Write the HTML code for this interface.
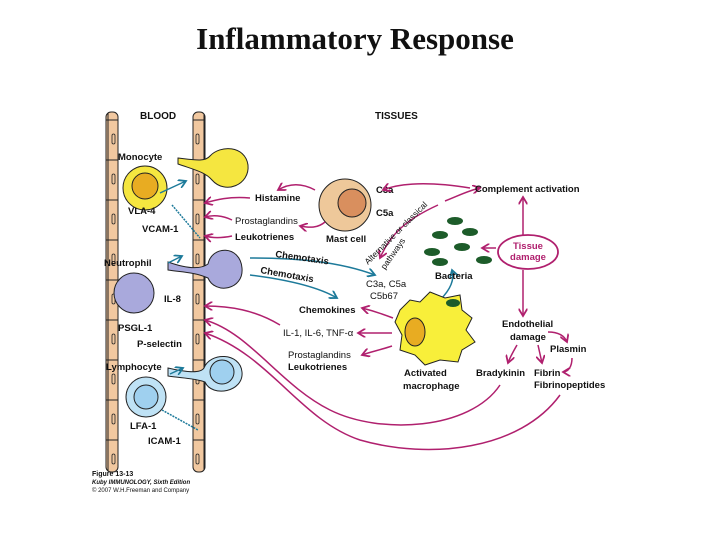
<!DOCTYPE html>
<html><head><meta charset="utf-8"><style>
body{margin:0;background:#fff;width:720px;height:540px;overflow:hidden}
svg text{font-family:"Liberation Sans",sans-serif;font-weight:bold;font-size:9.5px;fill:#111}
</style></head><body>
<svg width="720" height="540" viewBox="0 0 720 540">
<defs>
<marker id="mp" markerWidth="6" markerHeight="6" refX="5" refY="3" orient="auto"><path d="M0,0 L5,3 L0,6" fill="none" stroke="#b0206e" stroke-width="1.2"/></marker>
<marker id="mb" markerWidth="6" markerHeight="6" refX="5" refY="3" orient="auto"><path d="M0,0 L5,3 L0,6" fill="none" stroke="#1d7a9a" stroke-width="1.2"/></marker>
<pattern id="wall" width="12" height="40" patternUnits="userSpaceOnUse"><rect x="0" y="0" width="12" height="40" fill="#f1c8a0" stroke="#222" stroke-width="1"/><rect x="4" y="14" width="3" height="10" rx="1.5" fill="#f1c8a0" stroke="#222" stroke-width="0.8"/></pattern>
</defs>
<text x="355" y="49" text-anchor="middle" style="font-family:'Liberation Serif',serif;font-size:31px;font-weight:bold">Inflammatory Response</text>
<rect x="106" y="112" width="12" height="360" rx="5" fill="url(#wall)" stroke="#222"/>
<rect x="193" y="112" width="12" height="360" rx="5" fill="url(#wall)" stroke="#222"/>
<text x="140" y="119" style="font-size:10px">BLOOD</text>
<text x="375" y="119" style="font-size:10px">TISSUES</text>
<path d="M178,158 C195,160 205,162 210,156 C220,145 245,145 248,165 C250,185 225,195 212,180 C205,172 195,170 178,164 Z" fill="#f5e640" stroke="#222"/>
<circle cx="145" cy="188" r="22" fill="#f5e640" stroke="#222"/>
<circle cx="145" cy="186" r="13" fill="#e8ac22" stroke="#222"/>
<text x="118" y="160">Monocyte</text>
<text x="128" y="214">VLA-4</text>
<text x="142" y="232">VCAM-1</text>
<path d="M168,262 C185,268 200,270 208,264 C212,245 240,245 242,268 C244,290 215,295 208,278 C195,272 180,272 168,270 Z" fill="#a9a9dc" stroke="#222"/>
<circle cx="134" cy="293" r="20" fill="#a9a9dc" stroke="#222"/>
<text x="104" y="266">Neutrophil</text>
<text x="164" y="302">IL-8</text>
<text x="118" y="331">PSGL-1</text>
<text x="137" y="347">P-selectin</text>
<path d="M168,368 C185,372 200,374 204,368 C210,352 240,352 242,372 C244,392 212,398 205,382 C195,378 180,378 168,376 Z" fill="#bfe2f5" stroke="#222"/>
<circle cx="222" cy="372" r="12" fill="#9fd0ef" stroke="#222"/>
<circle cx="146" cy="397" r="20" fill="#bfe2f5" stroke="#222"/>
<circle cx="146" cy="397" r="12" fill="#9fd0ef" stroke="#222"/>
<text x="106" y="370">Lymphocyte</text>
<text x="130" y="429">LFA-1</text>
<text x="148" y="444">ICAM-1</text>
<text x="92" y="476" style="font-size:7px">Figure 13-13</text>
<text x="92" y="484" style="font-size:6px;font-style:italic">Kuby IMMUNOLOGY, Sixth Edition</text>
<text x="92" y="492" style="font-size:6px;font-weight:normal">© 2007 W.H.Freeman and Company</text>
<circle cx="345" cy="205" r="26" fill="#eec89a" stroke="#222"/>
<circle cx="352" cy="203" r="14" fill="#d98f5e" stroke="#222"/>
<text x="326" y="242">Mast cell</text>
<text x="376" y="193">C3a</text>
<text x="376" y="216">C5a</text>
<text x="255" y="201">Histamine</text>
<text x="235" y="224" style="font-weight:normal">Prostaglandins</text>
<text x="235" y="240">Leukotrienes</text>
<g fill="none" stroke="#b0206e" stroke-width="1.5" marker-end="url(#mp)">
<path d="M250,198 C230,196 215,200 205,203"/>
<path d="M315,190 C300,182 288,184 278,190"/>
<path d="M232,220 C222,215 212,215 205,217"/>
<path d="M232,236 C222,238 212,238 205,236"/>
<path d="M325,222 C318,228 310,228 300,226"/>
<path d="M470,188 C420,180 395,185 383,190"/>
<path d="M438,205 C405,220 390,235 380,258"/>
<path d="M445,201 C460,195 470,190 480,188"/>
<path d="M523,235 L523,197"/>
<path d="M523,270 L523,316"/>
<path d="M496,248 L482,248"/>
<path d="M393,318 C380,313 370,310 362,308"/>
<path d="M392,333 L358,333"/>
<path d="M392,346 C380,350 370,352 362,355"/>
<path d="M548,332 C560,332 565,337 567,342"/>
<path d="M517,345 C513,352 510,357 508,363"/>
<path d="M538,345 L542,363"/>
<path d="M572,358 C572,367 568,372 563,372"/>
<path d="M280,325 C255,310 230,306 205,306"/>
<path d="M500,385 C470,430 380,435 330,410 C280,385 250,333 205,320"/>
<path d="M560,395 C520,450 430,460 360,440 C300,420 270,355 205,333"/>
</g>
<g fill="none" stroke="#1d7a9a" stroke-width="1.5">
<path d="M250,258 C300,258 340,262 375,275" marker-end="url(#mb)"/>
<path d="M250,275 C290,280 320,288 337,298" marker-end="url(#mb)"/>
<path d="M440,300 C450,290 455,280 452,270" marker-end="url(#mb)"/>
<path d="M168,263 L182,256" marker-end="url(#mb)"/>
<path d="M160,193 L186,181" marker-end="url(#mb)"/>
<path d="M170,374 L183,368" marker-end="url(#mb)"/>
<path d="M172,205 L200,238" stroke-dasharray="2,1"/>
<path d="M162,410 L198,430" stroke-dasharray="2,1"/>
</g>
<text x="275" y="257" transform="rotate(8 275 257)">Chemotaxis</text>
<text x="260" y="273" transform="rotate(10 260 273)">Chemotaxis</text>
<g fill="#1d5c2a">
<ellipse cx="455" cy="221" rx="8" ry="4"/><ellipse cx="440" cy="235" rx="8" ry="4"/><ellipse cx="470" cy="232" rx="8" ry="4"/>
<ellipse cx="432" cy="252" rx="8" ry="4"/><ellipse cx="462" cy="247" rx="8" ry="4"/><ellipse cx="484" cy="260" rx="8" ry="4"/><ellipse cx="440" cy="262" rx="8" ry="4"/>
</g>
<text x="435" y="279">Bacteria</text>
<text x="366" y="287" style="font-weight:normal">C3a, C5a</text>
<text x="370" y="299" style="font-weight:normal">C5b67</text>
<text x="368" y="265" transform="rotate(-45 368 265)" style="font-weight:normal;font-size:8.5px">Alternative or classical</text>
<text x="385" y="270" transform="rotate(-55 385 270)" style="font-weight:normal;font-size:8.5px">pathways</text>
<text x="475" y="192">Complement activation</text>
<ellipse cx="528" cy="252" rx="30" ry="17" fill="#fff" stroke="#b0206e" stroke-width="1.8"/>
<text x="528" y="249" text-anchor="middle" style="fill:#b0206e">Tissue</text>
<text x="528" y="260" text-anchor="middle" style="fill:#b0206e">damage</text>
<text x="299" y="313">Chemokines</text>
<text x="283" y="336" style="font-weight:normal">IL-1, IL-6, TNF-α</text>
<text x="288" y="358" style="font-weight:normal">Prostaglandins</text>
<text x="288" y="370">Leukotrienes</text>
<path d="M400,310 L410,300 L420,302 L430,292 L445,298 L460,295 L462,310 L472,318 L466,330 L475,342 L462,350 L458,362 L440,360 L425,365 L415,355 L400,350 L402,335 L395,322 Z" fill="#f8ef3a" stroke="#222"/>
<ellipse cx="415" cy="332" rx="10" ry="14" fill="#e8ac22" stroke="#222"/>
<ellipse cx="453" cy="303" rx="7" ry="4" fill="#1d5c2a"/>
<text x="404" y="376">Activated</text>
<text x="403" y="389">macrophage</text>
<text x="502" y="327">Endothelial</text>
<text x="510" y="340">damage</text>
<text x="550" y="352">Plasmin</text>
<text x="476" y="376">Bradykinin</text>
<text x="534" y="376">Fibrin</text>
<text x="534" y="388">Fibrinopeptides</text>
</svg>
</body></html>
